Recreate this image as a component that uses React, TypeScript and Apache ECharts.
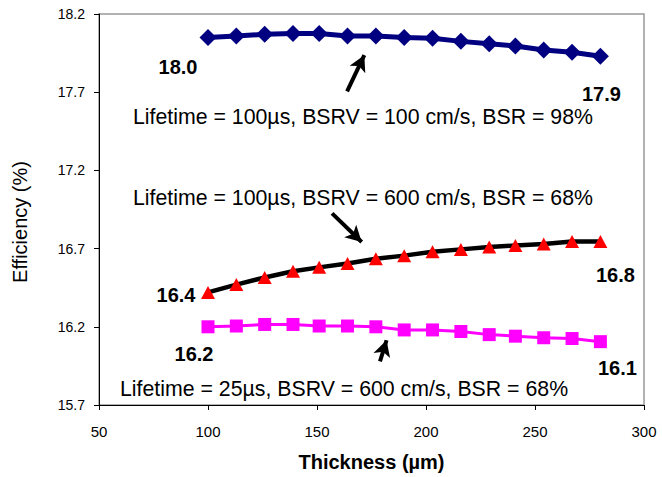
import React, { useEffect, useRef } from "react";
import * as echarts from "echarts";

// Thickness (µm)
const thickness = [100, 113, 126, 139, 151, 164, 177, 190, 203, 216, 229, 241, 254, 267, 280];
// Efficiency (%) series
const seriesA = [18.05, 18.06, 18.07, 18.075, 18.075, 18.06, 18.06, 18.05, 18.045, 18.025, 18.01, 17.995, 17.97, 17.955, 17.93];
const seriesB = [16.42, 16.47, 16.515, 16.555, 16.58, 16.605, 16.635, 16.655, 16.68, 16.695, 16.71, 16.72, 16.73, 16.745, 16.745];
const seriesC = [16.2, 16.205, 16.215, 16.215, 16.205, 16.205, 16.2, 16.18, 16.18, 16.17, 16.15, 16.14, 16.13, 16.125, 16.105];
// end-point annotation texts [first, last]
const labelsA = ["18.0", "17.9"];
const labelsB = ["16.4", "16.8"];
const labelsC = ["16.2", "16.1"];
// curve descriptions
const captions = [
  "Lifetime = 100µs, BSRV = 100 cm/s, BSR = 98%",
  "Lifetime = 100µs, BSRV = 600 cm/s, BSR = 68%",
  "Lifetime = 25µs, BSRV = 600 cm/s, BSR = 68%",
];
// arrows [x1, y1, x2, y2] in data units
const arrows = [
  [163.8, 17.705, 171.7, 17.937],
  [156.9, 16.925, 170.5, 16.742],
  [178.9, 15.979, 181.9, 16.114],
];
const yTickMin = 15.7;
const yTickMax = 18.2;
const xMin = 50;
const xMax = 300;

const FONT = "'Liberation Sans', Arial, sans-serif";
// axis is shifted so that ECharts ticks (multiples of the interval) land on 15.7, 16.2, ...
const OFF = 0.2;

export default function App() {
  const ref = useRef<HTMLDivElement>(null);
  useEffect(() => {
    if (!ref.current) return;
    const chart = echarts.init(ref.current, undefined, { renderer: "svg" });

    const endLabel = (text: string, offset: number[]) => ({
      show: true,
      formatter: text,
      position: "inside",
      offset,
      fontFamily: FONT,
      fontSize: 20,
      fontWeight: "bold",
      color: "#000",
    });

    const build = (vals: number[], labels: string[], offFirst: number[], offLast: number[]) =>
      vals.map((v, i) => {
        const item: any = { value: [thickness[i], v - OFF] };
        if (i === 0) item.label = endLabel(labels[0], offFirst);
        if (i === vals.length - 1) item.label = endLabel(labels[1], offLast);
        return item;
      });

    const option: any = {
      animation: false,
      grid: {
        left: 99,
        right: 18,
        top: 14,
        bottom: 69,
        show: true,
        borderColor: "#999",
        borderWidth: 1.5,
        backgroundColor: "transparent",
      },
      xAxis: {
        type: "value",
        min: xMin,
        max: xMax,
        interval: 50,
        axisLine: { show: true, lineStyle: { color: "#000", width: 1 } },
        axisTick: { show: true, inside: false, length: 5, lineStyle: { color: "#000" } },
        splitLine: { show: false },
        axisLabel: { fontFamily: FONT, fontSize: 15, color: "#000", margin: 19 },
        name: "Thickness (µm)",
        nameLocation: "middle",
        nameGap: 47,
        nameTextStyle: { fontFamily: FONT, fontSize: 20, fontWeight: "bold", color: "#000" },
      },
      yAxis: {
        type: "value",
        min: yTickMin - OFF,
        max: yTickMax - OFF,
        interval: 0.5,
        axisLine: { show: true, lineStyle: { color: "#000", width: 1 } },
        axisTick: { show: true, inside: false, length: 5, lineStyle: { color: "#000" } },
        splitLine: { show: false },
        axisLabel: {
          fontFamily: FONT,
          fontSize: 14,
          color: "#000",
          margin: 14,
          formatter: (v: number) => (v + OFF).toFixed(1),
        },
      },
      series: [
        {
          type: "line",
          data: build(seriesA, labelsA, [-30, 30], [1, 38]),
          symbol: "diamond",
          symbolSize: 17,
          itemStyle: { color: "#000080" },
          lineStyle: { color: "#000080", width: 5 },
          z: 3,
        },
        {
          type: "line",
          data: build(seriesB, labelsB, [-32, 3], [15, 33]),
          symbol: "triangle",
          symbolSize: [14, 13],
          itemStyle: { color: "#FF0000" },
          lineStyle: { color: "#000", width: 4.5 },
          z: 3,
        },
        {
          type: "line",
          data: build(seriesC, labelsC, [-14, 27], [17, 26]),
          symbol: "rect",
          symbolSize: 13,
          itemStyle: { color: "#FF00FF" },
          lineStyle: { color: "#FF00FF", width: 3 },
          z: 3,
        },
        {
          type: "line",
          data: [],
          silent: true,
          markLine: {
            silent: true,
            symbol: ["none", "arrow"],
            symbolSize: [13, 16],
            label: { show: false },
            lineStyle: { color: "#000", width: 4, type: "solid" },
            data: arrows.map((a) => [
              { coord: [a[0], a[1] - OFF] },
              { coord: [a[2], a[3] - OFF] },
            ]),
          },
        },
      ],
      graphic: [
        {
          type: "text",
          left: 133,
          top: 106,
          style: { text: captions[0], fontFamily: FONT, fontSize: 21.3, fill: "#000" },
        },
        {
          type: "text",
          left: 133,
          top: 187,
          style: { text: captions[1], fontFamily: FONT, fontSize: 21.3, fill: "#000" },
        },
        {
          type: "text",
          left: 120,
          top: 378,
          style: { text: captions[2], fontFamily: FONT, fontSize: 21.3, fill: "#000" },
        },
        {
          type: "text",
          x: 20,
          y: 222,
          rotation: Math.PI / 2,
          style: {
            text: "Efficiency (%)",
            fontFamily: FONT,
            fontSize: 20,
            fill: "#000",
            align: "center",
            verticalAlign: "middle",
          },
        },
      ],
    };
    chart.setOption(option);
    return () => chart.dispose();
  }, []);
  return (
    <div
      ref={ref}
      style={{ position: "absolute", left: 0, top: 0, width: 662, height: 477, background: "#fff" }}
    />
  );
}
